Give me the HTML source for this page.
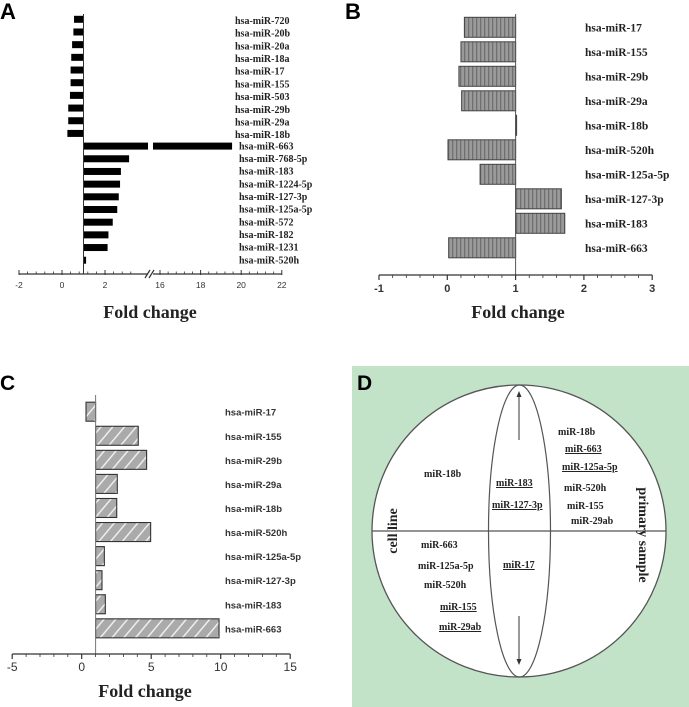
<!DOCTYPE html>
<html><head><meta charset="utf-8"><style>
html,body{margin:0;padding:0;background:#fff;}
svg{display:block;}
.lab{font-family:"Liberation Serif",serif;font-weight:bold;fill:#222;}
.sans{font-family:"Liberation Sans",sans-serif;}
</style></head><body>
<svg id="fig" width="689" height="707" viewBox="0 0 689 707" xmlns="http://www.w3.org/2000/svg">
<defs>
<pattern id="vstripe" width="4" height="10" patternUnits="userSpaceOnUse">
<rect width="4" height="10" fill="#9a9a9a"/><rect width="1.3" height="10" fill="#707070"/>
</pattern>
<pattern id="hatch" width="9" height="9" patternUnits="userSpaceOnUse" patternTransform="rotate(40)">
<rect width="9" height="9" fill="#aaaaaa"/><rect width="1.5" height="9" fill="#eeeeee"/>
</pattern>
</defs>
<g id="pA"></g>
<g id="pB"></g>
<g id="pC"></g>
<g id="pD">
<rect x="352" y="366" width="337" height="341" fill="#c2e3c8"/>
<text x="357" y="390" class="sans" font-size="21" font-weight="bold">D</text>
<ellipse cx="519" cy="531" rx="147" ry="146" fill="#fff" stroke="#555" stroke-width="1.3"/>
<ellipse cx="519.5" cy="531" rx="31" ry="146" fill="none" stroke="#555" stroke-width="1.2"/>
<line x1="372" y1="531" x2="666" y2="531" stroke="#555" stroke-width="1.3"/>
<line x1="519" y1="393" x2="519" y2="440" stroke="#333" stroke-width="1"/>
<path d="M516.5 397 L519 391 L521.5 397Z" fill="#333"/>
<line x1="519" y1="616" x2="519" y2="663" stroke="#333" stroke-width="1"/>
<path d="M516.5 659 L519 665 L521.5 659Z" fill="#333"/>
<g class="lab" font-size="10">
<text x="558" y="435">miR-18b</text>
<text x="565" y="452" text-decoration="underline">miR-663</text>
<text x="562" y="470" text-decoration="underline">miR-125a-5p</text>
<text x="564" y="491">miR-520h</text>
<text x="567" y="509">miR-155</text>
<text x="571" y="524">miR-29ab</text>
<text x="424" y="477">miR-18b</text>
<text x="496" y="486" text-decoration="underline">miR-183</text>
<text x="492" y="508" text-decoration="underline">miR-127-3p</text>
<text x="421" y="548">miR-663</text>
<text x="418" y="569">miR-125a-5p</text>
<text x="424" y="588">miR-520h</text>
<text x="440" y="610" text-decoration="underline">miR-155</text>
<text x="439" y="630" text-decoration="underline">miR-29ab</text>
<text x="503" y="568" text-decoration="underline">miR-17</text>
<text transform="translate(397,531) rotate(-90)" text-anchor="middle" font-size="14">cell line</text>
<text transform="translate(639,535) rotate(90)" text-anchor="middle" font-size="14">primary sample</text>
</g>
</g>
</svg>
<script>
// ---------- Panel A data ----------
const aCategories = ["hsa-miR-720","hsa-miR-20b","hsa-miR-20a","hsa-miR-18a","hsa-miR-17","hsa-miR-155","hsa-miR-503","hsa-miR-29b","hsa-miR-29a","hsa-miR-18b","hsa-miR-663","hsa-miR-768-5p","hsa-miR-183","hsa-miR-1224-5p","hsa-miR-127-3p","hsa-miR-125a-5p","hsa-miR-572","hsa-miR-182","hsa-miR-1231","hsa-miR-520h"];
const aValues = [0.56,0.53,0.47,0.43,0.40,0.40,0.37,0.29,0.29,0.25,19.55,3.12,2.74,2.70,2.64,2.57,2.36,2.16,2.12,1.12];
const aTicksLow = [-2,0,2];
const aTicksHigh = [16,18,20,22];
// ---------- Panel B data ----------
const bCategories = ["hsa-miR-17","hsa-miR-155","hsa-miR-29b","hsa-miR-29a","hsa-miR-18b","hsa-miR-520h","hsa-miR-125a-5p","hsa-miR-127-3p","hsa-miR-183","hsa-miR-663"];
const bValues = [0.25,0.20,0.17,0.21,1.0,0.01,0.48,1.67,1.72,0.02];
const bTicks = [-1,0,1,2,3];
// ---------- Panel C data ----------
const cCategories = ["hsa-miR-17","hsa-miR-155","hsa-miR-29b","hsa-miR-29a","hsa-miR-18b","hsa-miR-520h","hsa-miR-125a-5p","hsa-miR-127-3p","hsa-miR-183","hsa-miR-663"];
const cValues = [0.31,4.07,4.67,2.56,2.52,4.96,1.63,1.46,1.70,9.88];
const cTicks = [-5,0,5,10,15];

const NS="http://www.w3.org/2000/svg";
function mk(parent,tag,attrs,text){const e=document.createElementNS(NS,tag);for(const k in attrs)e.setAttribute(k,attrs[k]);if(text!==undefined)e.textContent=text;parent.appendChild(e);return e;}

// ===== Panel A =====
(function(){
const g=document.getElementById('pA');
const lowX=v=>62+21.5*v, highX=v=>160+20.3*(v-16);
const BREAK=4;
const xA=v=>v<=BREAK?lowX(v):highX(v);
const rowY=i=>19+12.68*i;
const axisY=274, base=xA(1);
let t=mk(g,'text',{x:0,y:19,'class':'sans','font-size':22,'font-weight':'bold'},'A');


aValues.forEach((v,i)=>{
  const y=rowY(i)-3.2;
  if(v>BREAK){
    let r1=mk(g,'rect',{x:base,y:y,width:lowX(BREAK)-base,height:7,fill:'#000'});
    
    
    let r2=mk(g,'rect',{x:lowX(BREAK)+5,y:y,width:xA(v)-lowX(BREAK)-5,height:7,fill:'#000'});
    
    
  } else {
    const x0=Math.min(base,xA(v)), w=Math.abs(xA(v)-base);
    let r=mk(g,'rect',{x:x0,y:y,width:Math.max(w,1.5),height:7,fill:'#000'});
    
    
  }
  let l=mk(g,'text',{x:i<10?235:239,y:rowY(i)+(i<10?5:3.5),'class':'lab','font-size':10},aCategories[i]);
  
  
});
let bl=mk(g,'line',{x1:base,y1:14,x2:base,y2:axisY,stroke:'#333','stroke-width':1});


let ax1=mk(g,'line',{x1:lowX(-2),y1:axisY,x2:148,y2:axisY,stroke:'#333','stroke-width':1.2});


let ax2=mk(g,'line',{x1:153,y1:axisY,x2:highX(22),y2:axisY,stroke:'#333','stroke-width':1.2});


let brk=mk(g,'path',{d:'M145 278 L150 270 M149 278 L154 270',stroke:'#333','stroke-width':1.2,fill:'none'});


const ticks=[...aTicksLow.map(v=>[v,lowX(v),lowX]),...aTicksHigh.map(v=>[v,highX(v),highX])];
ticks.forEach(([v,x,f])=>{
  let tk=mk(g,'line',{x1:x,y1:axisY-4,x2:x,y2:axisY+1,stroke:'#333','stroke-width':1});
  
  
  let tl=mk(g,'text',{x:x,y:axisY+14,'text-anchor':'middle','class':'sans','font-size':8.5,fill:'#333'},v);
  
  
  for(let k=1;k<5;k++){const vv=v+k*0.4; if((f===lowX&&vv<3.6)||(f===highX&&vv<22)){let m=mk(g,'line',{x1:f(vv),y1:axisY-2.5,x2:f(vv),y2:axisY,stroke:'#333','stroke-width':0.8});}}
});
let ti=mk(g,'text',{x:150,y:318,'text-anchor':'middle','class':'lab','font-size':18},'Fold change');


})();

// ===== Panel B =====
(function(){
const g=document.getElementById('pB');
const xB=v=>447.3+68.3*v;
const rowY=i=>27.3+24.5*i;
const axisY=275, base=xB(1);
let t=mk(g,'text',{x:345,y:19,'class':'sans','font-size':22,'font-weight':'bold'},'B');


bValues.forEach((v,i)=>{
  const x0=Math.min(base,xB(v)), w=Math.abs(xB(v)-base);
  let r=mk(g,'rect',{x:x0,y:rowY(i)-10,width:Math.max(w,1),height:20,fill:'url(#vstripe)',stroke:'#444','stroke-width':1});
  
  
  let l=mk(g,'text',{x:585,y:rowY(i)+4,'class':'lab','font-size':11.5},bCategories[i]);
  
  
});
let bl=mk(g,'line',{x1:base,y1:14,x2:base,y2:axisY,stroke:'#555','stroke-width':1});


let ax=mk(g,'line',{x1:xB(-1),y1:axisY,x2:xB(3),y2:axisY,stroke:'#333','stroke-width':1.2});


bTicks.forEach(v=>{
  let tk=mk(g,'line',{x1:xB(v),y1:axisY,x2:xB(v),y2:axisY+5,stroke:'#333','stroke-width':1.2});
  
  
  let tl=mk(g,'text',{x:xB(v),y:axisY+17,'text-anchor':'middle','class':'sans','font-size':11,'font-weight':'bold',fill:'#333'},v);
  
  
  if(v<3)for(let k=1;k<5;k++){let m=mk(g,'line',{x1:xB(v+k*0.2),y1:axisY,x2:xB(v+k*0.2),y2:axisY+3,stroke:'#333','stroke-width':0.8});}
});
let ti=mk(g,'text',{x:518,y:318,'text-anchor':'middle','class':'lab','font-size':18},'Fold change');


})();

// ===== Panel C =====
(function(){
const g=document.getElementById('pC');
const xC=v=>81.7+13.9*v;
const rowY=i=>411.7+24.07*i;
const axisY=654, base=xC(1);
let t=mk(g,'text',{x:0,y:390,'class':'sans','font-size':21,'font-weight':'bold'},'C');


cValues.forEach((v,i)=>{
  const x0=Math.min(base,xC(v)), w=Math.abs(xC(v)-base);
  let r=mk(g,'rect',{x:x0,y:rowY(i)-9.5,width:Math.max(w,1),height:19,fill:'url(#hatch)',stroke:'#333','stroke-width':1.1});
  
  
  let l=mk(g,'text',{x:225,y:rowY(i)+4,'class':'sans','font-size':9.5,'font-weight':'bold',fill:'#333'},cCategories[i]);
  
  
});
let bl=mk(g,'line',{x1:base,y1:395,x2:base,y2:axisY,stroke:'#777','stroke-width':1});


let ax=mk(g,'line',{x1:xC(-5),y1:axisY,x2:xC(15),y2:axisY,stroke:'#333','stroke-width':1.2});


cTicks.forEach(v=>{
  let tk=mk(g,'line',{x1:xC(v),y1:axisY,x2:xC(v),y2:axisY+5,stroke:'#333','stroke-width':1.2});
  
  
  let tl=mk(g,'text',{x:xC(v),y:axisY+17,'text-anchor':'middle','class':'sans','font-size':12,fill:'#333'},v);
  
  
  if(v<15)for(let k=1;k<5;k++){let m=mk(g,'line',{x1:xC(v+k),y1:axisY,x2:xC(v+k),y2:axisY+3,stroke:'#333','stroke-width':0.8});}
});
let ti=mk(g,'text',{x:145,y:697,'text-anchor':'middle','class':'lab','font-size':18},'Fold change');


})();
</script>
</body></html>
